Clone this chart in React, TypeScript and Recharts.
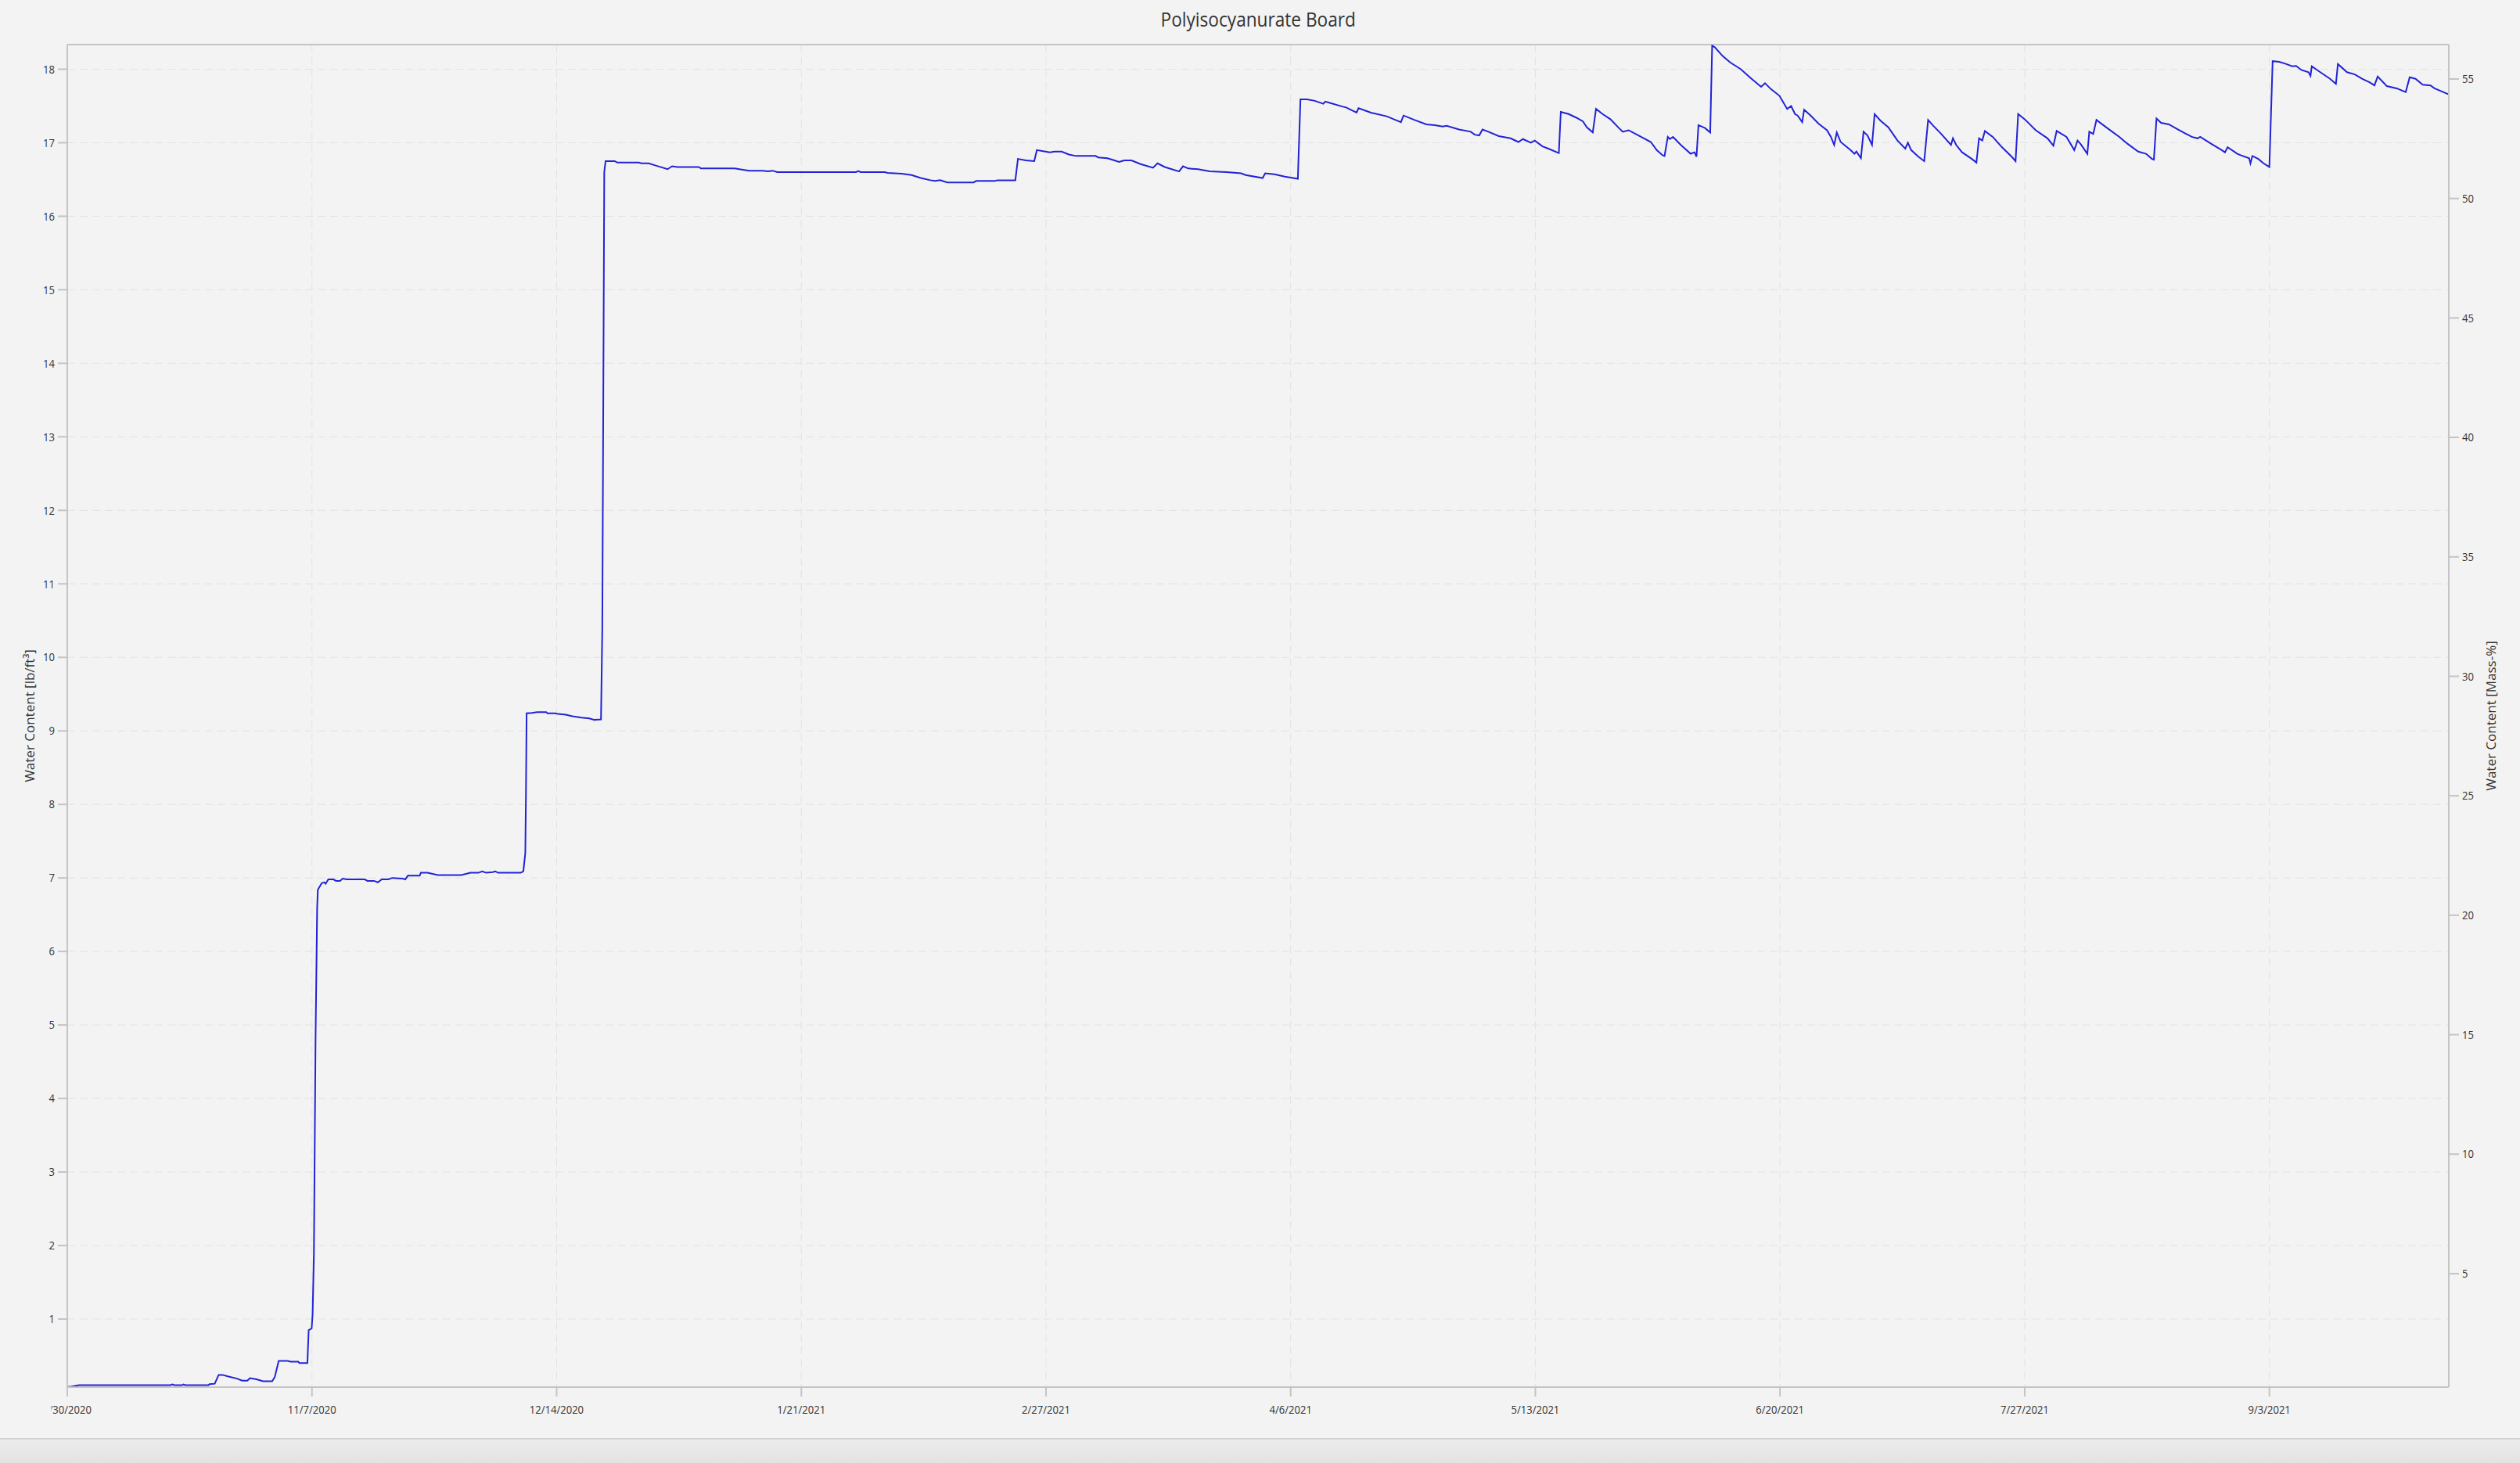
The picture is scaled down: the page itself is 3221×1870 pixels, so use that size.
import React from "react"
import { CartesianGrid, Line, LineChart, ReferenceLine, XAxis, YAxis } from "recharts"

// days since 9/30/2020 12:00
const days = [
  0, 0.5, 1.8, 15.8, 16.1, 16.4, 17.6, 17.8, 18.1, 21.6, 21.8, 22.6, 23.2, 23.8, 24.6, 26.0, 26.8, 27.6, 28.0, 29.0,
  30.0, 31.4, 31.8, 32.4, 33.8, 34.2, 35.4, 35.6, 36.8, 37.0, 37.45, 37.6, 37.8, 38.05, 38.3, 38.4, 39.0, 39.4, 39.6, 40.0,
  40.8, 41.2, 41.8, 42.2, 42.8, 45.6, 46.0, 47.0, 47.6, 48.2, 49.2, 49.8, 51.4, 51.8, 52.2, 54.0, 54.2, 55.2, 56.8, 60.4,
  61.8, 63.0, 63.6, 64.2, 65.2, 65.6, 66.0, 69.5, 69.9, 70.2, 70.3, 70.4, 71.2, 72.0, 73.4, 73.6, 74.8, 75.2, 76.4, 77.4,
  78.8, 80.0, 80.8, 81.8, 82.0, 82.3, 82.5, 83.9, 84.3, 87.6, 88.0, 89.1, 90.2, 92.0, 92.7, 93.5, 96.8, 97.1, 102.3, 103.0,
  104.5, 106.6, 107.4, 108.1, 108.8, 120.9, 121.2, 121.6, 125.3, 125.7, 127.9, 129.4, 130.8, 132.3, 133.0, 133.8, 134.5, 134.9, 138.9, 139.3,
  142.2, 142.5, 145.3, 145.7, 146.9, 148.2, 148.6, 149.9, 150.6, 151.3, 152.4, 153.5, 154.6, 157.6, 158.0, 159.4, 160.1, 161.2, 162.0, 163.1,
  164.5, 166.4, 167.1, 168.2, 170.4, 171.0, 171.8, 173.3, 175.1, 177.7, 179.9, 180.6, 183.2, 183.6, 185.0, 186.6, 188.6, 189.0, 190.0, 191.2,
  192.5, 192.8, 193.6, 195.5, 196.0, 197.6, 197.9, 199.8, 202.2, 204.4, 204.8, 206.5, 208.3, 209.6, 210.8, 211.4, 213.3, 215.1, 215.7, 216.4,
  216.9, 217.8, 219.4, 221.2, 222.4, 223.1, 224.3, 224.9, 226.1, 227.0, 228.3, 228.6, 228.9, 230.1, 231.3, 232.3, 232.9, 233.8, 234.3, 235.3,
  236.5, 237.8, 238.4, 239.3, 240.8, 242.7, 243.6, 244.5, 244.8, 245.3, 245.6, 246.1, 247.3, 248.8, 249.4, 249.7, 250.0, 251.0, 251.8, 252.1,
  252.5, 253.7, 254.9, 256.5, 258.0, 259.6, 260.2, 261.1, 262.4, 263.6, 264.2, 264.8, 265.2, 265.9, 266.2, 267.2, 268.4, 269.7, 270.3, 270.8,
  271.2, 271.8, 273.3, 273.9, 274.2, 274.9, 275.3, 275.9, 276.6, 277.0, 277.9, 279.1, 280.5, 281.7, 282.1, 282.6, 283.7, 284.6, 285.2, 286.0,
  287.2, 288.7, 289.0, 289.5, 290.4, 291.9, 292.6, 293.0, 293.5, 293.9, 295.1, 296.5, 298.0, 298.6, 299.0, 300.0, 301.7, 303.5, 304.4, 304.9,
  306.4, 307.6, 308.1, 308.6, 309.6, 309.9, 310.5, 311.0, 311.6, 312.8, 314.5, 315.7, 317.4, 318.6, 319.5, 319.8, 320.2, 320.9, 322.1, 323.3,
  325.6, 326.5, 326.9, 328.5, 330.2, 330.7, 331.1, 332.6, 333.1, 334.4, 334.6, 334.9, 335.8, 336.6, 337.5, 338.0, 339.0, 340.1, 341.0, 341.6,
  342.4, 343.5, 343.8, 344.0, 345.3, 346.8, 347.7, 348.0, 349.4, 350.6, 351.7, 352.9, 353.6, 354.1, 355.5, 357.0, 358.4, 359.0, 359.9, 361.0,
  362.2, 362.8, 364.9,
]

// water content, lb/ft³
const waterContent = [
  0.078, 0.08, 0.1, 0.1, 0.11, 0.1, 0.1, 0.11, 0.1, 0.1, 0.113, 0.12, 0.24, 0.24, 0.22, 0.19, 0.163, 0.163, 0.195, 0.18,
  0.153, 0.153, 0.21, 0.43, 0.43, 0.42, 0.42, 0.4, 0.4, 0.85, 0.87, 1.06, 1.9, 4.8, 6.6, 6.84, 6.93, 6.94, 6.92, 6.98,
  6.98, 6.96, 6.96, 6.99, 6.98, 6.98, 6.96, 6.96, 6.94, 6.98, 6.98, 7.0, 6.99, 6.98, 7.03, 7.03, 7.07, 7.07, 7.04, 7.04,
  7.07, 7.07, 7.09, 7.07, 7.08, 7.09, 7.07, 7.07, 7.09, 7.34, 8.16, 9.24, 9.245, 9.255, 9.255, 9.24, 9.24, 9.23, 9.22, 9.2,
  9.18, 9.17, 9.15, 9.156, 10.4, 16.6, 16.75, 16.75, 16.73, 16.73, 16.72, 16.72, 16.69, 16.64, 16.68, 16.67, 16.67, 16.65, 16.65, 16.64,
  16.62, 16.62, 16.61, 16.62, 16.6, 16.6, 16.615, 16.6, 16.6, 16.59, 16.58, 16.56, 16.52, 16.49, 16.48, 16.49, 16.47, 16.46, 16.46, 16.48,
  16.48, 16.49, 16.49, 16.78, 16.76, 16.75, 16.9, 16.88, 16.87, 16.88, 16.88, 16.84, 16.82, 16.82, 16.8, 16.79, 16.77, 16.74, 16.76, 16.76,
  16.71, 16.66, 16.72, 16.67, 16.61, 16.68, 16.65, 16.64, 16.61, 16.6, 16.585, 16.56, 16.52, 16.585, 16.57, 16.54, 16.51, 17.59, 17.59, 17.57,
  17.53, 17.56, 17.54, 17.49, 17.48, 17.41, 17.47, 17.41, 17.36, 17.28, 17.37, 17.31, 17.25, 17.24, 17.22, 17.23, 17.18, 17.15, 17.11, 17.1,
  17.18, 17.15, 17.09, 17.06, 17.01, 17.05, 17.0, 17.03, 16.95, 16.92, 16.87, 16.86, 17.42, 17.39, 17.34, 17.29, 17.21, 17.14, 17.46, 17.39,
  17.32, 17.2, 17.15, 17.17, 17.1, 17.01, 16.9, 16.83, 16.82, 17.08, 17.05, 17.08, 16.97, 16.85, 16.87, 16.81, 17.24, 17.2, 17.14, 18.32,
  18.3, 18.18, 18.09, 18.0, 17.88, 17.76, 17.81, 17.73, 17.64, 17.46, 17.5, 17.39, 17.37, 17.28, 17.45, 17.37, 17.26, 17.17, 17.08, 16.97,
  17.14, 17.01, 16.9, 16.85, 16.88, 16.79, 17.15, 17.1, 16.97, 17.39, 17.3, 17.21, 17.03, 16.92, 17.0, 16.9, 16.81, 16.75, 17.31, 17.23,
  17.12, 16.97, 17.06, 16.97, 16.87, 16.78, 16.73, 17.06, 17.03, 17.16, 17.08, 16.94, 16.81, 16.75, 17.39, 17.32, 17.17, 17.06, 16.96, 17.16,
  17.08, 16.9, 17.03, 16.98, 16.85, 17.15, 17.12, 17.31, 17.27, 17.19, 17.08, 16.99, 16.88, 16.85, 16.78, 16.77, 17.33, 17.27, 17.25, 17.19,
  17.08, 17.06, 17.08, 16.99, 16.9, 16.87, 16.94, 16.85, 16.83, 16.79, 16.72, 16.82, 16.78, 16.72, 16.67, 18.11, 18.1, 18.07, 18.04, 18.045,
  17.99, 17.96, 17.91, 18.04, 17.96, 17.87, 17.8, 18.07, 17.96, 17.93, 17.87, 17.82, 17.78, 17.9, 17.77, 17.74, 17.69, 17.89, 17.87, 17.79,
  17.78, 17.74, 17.66,
]

const tickDays = [0, 37.5, 75, 112.5, 150, 187.5, 225, 262.5, 300, 337.5]
const tickLabels = ["9/30/2020", "11/7/2020", "12/14/2020", "1/21/2021", "2/27/2021", "4/6/2021", "5/13/2021", "6/20/2021", "7/27/2021", "9/3/2021"]
const leftTicks = [1, 2, 3, 4, 5, 6, 7, 8, 9, 10, 11, 12, 13, 14, 15, 16, 17, 18]
const rightTicks = [5, 10, 15, 20, 25, 30, 35, 40, 45, 50, 55]

const data = days.map((d, i) => ({ day: d, wc: waterContent[i] }))

const FONT = "'Segoe UI', 'Open Sans', sans-serif"
const TEXT = "#333333"

function XTick(props: any) {
  const { x, y, payload, index } = props
  const label = tickLabels[tickDays.indexOf(payload.value)] ?? ""
  return (
    <g clipPath={index === 0 ? "url(#firstTickClip)" : undefined}>
      {index === 0 && (
        <defs>
          <clipPath id="firstTickClip">
            <rect x={65.5} y={0} width={300} height={4000} />
          </clipPath>
        </defs>
      )}
      <text transform={`translate(${x},${y}) scale(0.87,1)`} textAnchor="middle" dy="0.95em" fontSize={15} fontFamily={FONT} fill={TEXT}>
        {label}
      </text>
    </g>
  )
}

function YTick(props: any) {
  const { x, y, payload, anchor } = props
  return (
    <text transform={`translate(${x},${y}) scale(0.87,1)`} textAnchor={anchor} dy="0.35em" fontSize={15} fontFamily={FONT} fill={TEXT}>
      {payload.value}
    </text>
  )
}

export default function App() {
  return (
    <div style={{ position: "absolute", left: 0, top: 0, width: 3221, height: 1870, background: "#f3f3f3", overflow: "hidden", fontFamily: FONT }}>
      <div style={{ position: "absolute", left: 0, top: 11, width: 3221, textAlign: "center", lineHeight: 1 }}>
        <span style={{ display: "inline-block", fontSize: 26, color: "#333", transform: "scaleX(0.87)", marginLeft: -4 }}>Polyisocyanurate Board</span>
      </div>
      <LineChart width={3221} height={1839} data={data} margin={{ top: 57, right: 0, bottom: 0, left: 0 }}>
        <CartesianGrid yAxisId="left" strokeDasharray="10 6" stroke="#e2e2e2" strokeWidth={1} />
        <XAxis
          dataKey="day"
          type="number"
          domain={[0, 365]}
          allowDataOverflow
          ticks={tickDays}
          height={66}
          tickSize={12}
          tickMargin={8}
          stroke="#c4c4c4"
          strokeWidth={2}
          tick={<XTick />}
        />
        <YAxis
          yAxisId="left"
          type="number"
          domain={[0.074, 18.335]}
          allowDataOverflow
          ticks={leftTicks}
          width={86}
          tickSize={12}
          tickMargin={4}
          stroke="#c4c4c4"
          strokeWidth={2}
          tick={<YTick anchor="end" />}
          label={{ value: "Water Content [lb/ft³]", angle: -90, position: "center", dx: -5, fontSize: 17, fill: TEXT, fontFamily: FONT }}
        />
        <YAxis
          yAxisId="right"
          orientation="right"
          type="number"
          domain={[0.25, 56.44]}
          allowDataOverflow
          ticks={rightTicks}
          width={91}
          tickSize={13}
          tickMargin={4}
          stroke="#c4c4c4"
          strokeWidth={2}
          tick={<YTick anchor="start" />}
          label={{ value: "Water Content [Mass-%]", angle: -90, position: "center", dx: 8, fontSize: 17, fill: TEXT, fontFamily: FONT }}
        />
        <ReferenceLine yAxisId="left" y={18.335} stroke="#c4c4c4" strokeWidth={2} />
        <Line
          yAxisId="left"
          type="linear"
          dataKey="wc"
          stroke="#2222d6"
          strokeWidth={2}
          dot={false}
          isAnimationActive={false}
        />
      </LineChart>
      <div
        style={{
          position: "absolute",
          left: 0,
          top: 1838,
          width: 3221,
          height: 32,
          borderTop: "2px solid #d2d2d2",
          background: "linear-gradient(#ececec, #e2e2e2)",
        }}
      />
    </div>
  )
}
